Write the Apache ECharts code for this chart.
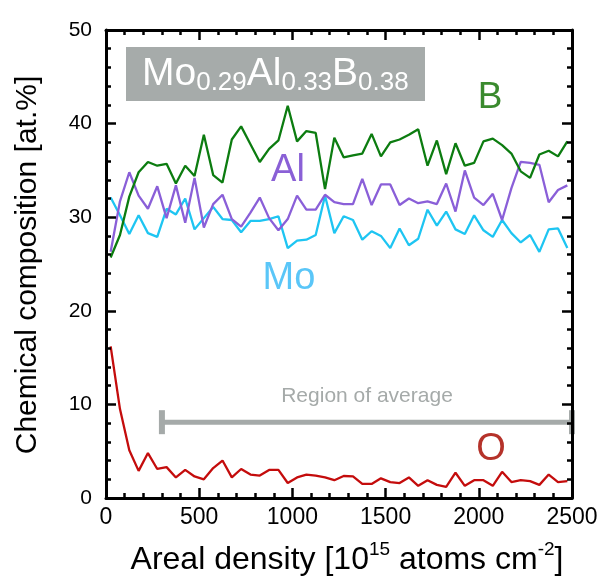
<!DOCTYPE html>
<html>
<head>
<meta charset="utf-8">
<script src="https://cdn.jsdelivr.net/npm/echarts@6/dist/echarts.min.js"></script>
<style>
  html, body { margin: 0; padding: 0; background: #fff; }
  #main { width: 606px; height: 582px; }
</style>
</head>
<body>
<div id="main"></div>
<script>
// depth positions (10^15 atoms/cm2)
var depth = [25, 75, 125, 175, 225, 275, 325, 375, 425, 475,
  525, 575, 625, 675, 725, 775, 825, 875, 925, 975,
  1025, 1075, 1125, 1175, 1225, 1275, 1325, 1375, 1425, 1475,
  1525, 1575, 1625, 1675, 1725, 1775, 1825, 1875, 1925, 1975,
  2025, 2075, 2125, 2175, 2225, 2275, 2325, 2375, 2425, 2475];

var boron = [25.7, 28.1, 32.2, 34.8, 35.9, 35.5, 35.7, 33.6, 35.5, 34.4,
  38.8, 34.5, 33.7, 38.3, 39.7, 37.8, 35.9, 37.3, 38.2, 41.9,
  38.1, 39.2, 39.0, 33.0, 38.5, 36.4, 36.6, 36.8, 38.9, 36.5,
  38.0, 38.3, 38.8, 39.4, 35.5, 38.2, 34.6, 37.9, 35.5, 35.8,
  38.1, 38.4, 37.7, 36.8, 34.9, 34.2, 36.7, 37.1, 36.5, 38.1];

var aluminium = [26.3, 31.7, 34.8, 32.3, 30.9, 33.3, 29.9, 33.4, 29.4, 34.2,
  28.9, 31.4, 32.4, 29.8, 29.0, 30.5, 32.1, 29.9, 28.6, 29.8,
  32.3, 30.8, 30.8, 32.4, 31.6, 31.4, 31.4, 34.1, 31.3, 33.5,
  33.5, 31.3, 32.0, 31.5, 31.7, 31.4, 33.6, 30.6, 35.0, 32.1,
  31.3, 32.5, 29.7, 33.1, 35.9, 35.8, 35.6, 31.6, 32.9, 33.4];

var molybdenum = [32.1, 30.2, 28.2, 30.2, 28.3, 27.9, 30.9, 30.3, 32.0, 28.7,
  29.9, 31.1, 29.8, 29.7, 28.4, 29.6, 29.6, 29.8, 30.1, 26.7,
  27.5, 27.6, 28.1, 32.3, 28.3, 30.1, 29.7, 27.6, 28.5, 28.0,
  26.7, 28.8, 27.0, 27.7, 30.8, 29.1, 30.6, 28.7, 28.2, 30.2,
  28.6, 27.9, 29.7, 28.3, 27.3, 28.1, 26.3, 28.7, 28.8, 26.7];

var oxygen = [16.2, 9.5, 5.1, 2.9, 4.8, 3.1, 3.3, 2.2, 3.0, 2.3,
  2.0, 3.2, 4.0, 2.2, 3.1, 2.5, 2.4, 3.0, 3.0, 1.6,
  2.2, 2.5, 2.4, 2.2, 1.9, 2.35, 2.3, 1.5, 1.5, 2.1,
  1.7, 1.6, 2.2, 1.3, 1.9, 1.4, 1.2, 2.7, 1.3, 1.9,
  1.9, 1.3, 2.8, 1.7, 1.9, 1.8, 1.4, 2.5, 1.7, 1.8];

var averageRange = [300, 2500];
var averageLevel = 8.1;

var xTicks = [0, 500, 1000, 1500, 2000, 2500];
var yTicks = [0, 10, 20, 30, 40, 50];

function pairs(ys) {
  return depth.map(function (d, i) { return [d, ys[i]]; });
}

var myChart = echarts.init(document.getElementById('main'));
var font = '"Liberation Sans", Arial, sans-serif';

var xRange = { min: xTicks[0], max: xTicks[xTicks.length - 1], interval: xTicks[1] - xTicks[0] };
var yRange = { min: yTicks[0], max: yTicks[yTicks.length - 1], interval: yTicks[1] - yTicks[0] };

function baseAxis(range, extra) {
  var ax = {
    type: 'value',
    z: 10,
    axisLine: { show: true, onZero: false, lineStyle: { color: '#000', width: 3 } },
    axisTick: { show: true, inside: true, length: 10, lineStyle: { color: '#000', width: 2.5 } },
    minorTick: { show: true, splitNumber: 5, length: 5, lineStyle: { color: '#000', width: 2.5 } },
    splitLine: { show: false },
    minorSplitLine: { show: false }
  };
  return Object.assign(ax, range, extra);
}

function lineSeries(name, ys, color) {
  return {
    name: name,
    type: 'line',
    data: pairs(ys),
    showSymbol: false,
    symbol: 'none',
    lineStyle: { color: color, width: 2.3 },
    itemStyle: { color: color },
    z: 3
  };
}

// two grids on the same rectangle: one carries bottom/left axes, the other top/right
var gridBox = { left: 106, right: 34, top: 30, bottom: 84, containLabel: false, outerBoundsMode: 'none' };

var option = {
  animation: false,
  grid: [Object.assign({}, gridBox), Object.assign({}, gridBox)],
  xAxis: [
    baseAxis(xRange, {
      gridIndex: 0,
      axisLabel: { color: '#000', fontSize: 23, fontFamily: font, margin: 8,
        formatter: function (v) { return String(v); } }
    }),
    baseAxis(xRange, { gridIndex: 1, position: 'top', axisLabel: { show: false } })
  ],
  yAxis: [
    baseAxis(yRange, {
      gridIndex: 0,
      axisLabel: { color: '#000', fontSize: 21, fontFamily: font, margin: 14,
        formatter: function (v) { return String(v); } }
    }),
    baseAxis(yRange, { gridIndex: 1, position: 'right', axisLabel: { show: false } })
  ],
  series: [
    {
      name: 'average',
      type: 'line',
      data: averageRange.map(function (x) { return [x, averageLevel]; }),
      symbol: 'rect',
      symbolSize: [6, 24],
      showSymbol: true,
      lineStyle: { color: '#a5aaa9', width: 5 },
      itemStyle: { color: '#a5aaa9' },
      z: 2
    },
    lineSeries('Mo', molybdenum, '#1ec5f2'),
    lineSeries('Al', aluminium, '#8a5fd8'),
    lineSeries('B', boron, '#0c7c10'),
    lineSeries('O', oxygen, '#c40c0c')
  ],
  graphic: [
    {
      type: 'rect',
      shape: { x: 126, y: 47, width: 299, height: 54 },
      style: { fill: '#a6abaa' }
    },
    {
      type: 'text',
      x: 142, y: 74,
      style: {
        text: '{b|Mo}{s|0.29}{b|Al}{s|0.33}{b|B}{s|0.38}',
        verticalAlign: 'middle',
        rich: {
          b: { fontSize: 39, fontFamily: font, fill: '#fff', lineHeight: 44 },
          s: { fontSize: 26, fontFamily: font, fill: '#fff', verticalAlign: 'bottom', lineHeight: 35 }
        }
      }
    },
    // axis titles
    {
      type: 'text',
      x: 347, y: 560,
      style: {
        text: '{n|Areal density [10}{s|15}{n| atoms cm}{s|-2}{n|]}',
        align: 'center',
        verticalAlign: 'middle',
        rich: {
          n: { fontSize: 32, fontFamily: font, fill: '#000', lineHeight: 40 },
          s: { fontSize: 19, fontFamily: font, fill: '#000', verticalAlign: 'top', lineHeight: 24 }
        }
      }
    },
    {
      type: 'text',
      x: 28, y: 265,
      rotation: Math.PI / 2,
      style: { text: 'Chemical composition [at.%]', fontSize: 30, fontFamily: font, fill: '#000', align: 'center', verticalAlign: 'middle' }
    },
    {
      type: 'text', x: 367, y: 396,
      style: { text: 'Region of average', fontSize: 21, fontFamily: font, fill: '#a5aaa9', align: 'center', verticalAlign: 'middle' }
    },
    {
      type: 'text', x: 490, y: 98,
      style: { text: 'B', fontSize: 37, fontFamily: font, fill: '#3a8a2e', align: 'center', verticalAlign: 'middle' }
    },
    {
      type: 'text', x: 288, y: 171,
      style: { text: 'Al', fontSize: 38, fontFamily: font, fill: '#8a60d6', align: 'center', verticalAlign: 'middle' }
    },
    {
      type: 'text', x: 289, y: 279,
      style: { text: 'Mo', fontSize: 38, fontFamily: font, fill: '#5ac6f8', align: 'center', verticalAlign: 'middle' }
    },
    {
      type: 'text', x: 491, y: 450,
      style: { text: 'O', fontSize: 38, fontFamily: font, fill: '#b5322a', align: 'center', verticalAlign: 'middle' }
    }
  ]
};
myChart.setOption(option);
</script>
</body>
</html>
